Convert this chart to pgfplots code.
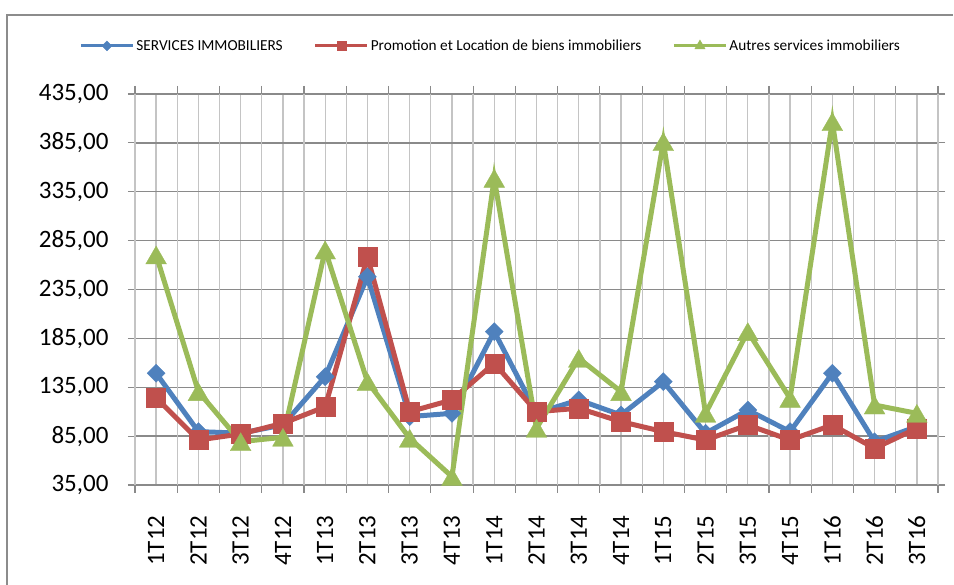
\documentclass[border=0pt]{standalone}
\usepackage{fontspec}
\setmainfont{Carlito}
\usepackage{pgfplots}
\pgfplotsset{compat=1.18}
\definecolor{cblue}{HTML}{4F81BD}
\definecolor{cred}{HTML}{C0504D}
\definecolor{cgreen}{HTML}{9BBB59}
\definecolor{gdark}{HTML}{8A8A8A}
\definecolor{glight}{HTML}{C4C4C4}
\definecolor{frame}{HTML}{8C8C8C}
\begin{document}
\begin{tikzpicture}
\begin{axis}[
  at={(0pt,0pt)}, anchor=south west,
  scale only axis, width=803pt, height=391pt,
  xmin=-0.5, xmax=18.5, ymin=35, ymax=435,
  clip=false,
  axis line style={gdark, line width=1.2pt},
  xtick={0,...,18},
  xticklabels={1T12,2T12,3T12,4T12,1T13,2T13,3T13,4T13,1T14,2T14,3T14,4T14,1T15,2T15,3T15,4T15,1T16,2T16,3T16},
  xtick style={draw=none},
  xmajorgrids, 
  x grid style={glight, line width=1.3pt},
  extra x ticks={-0.5,0.5,...,18.5},
  extra x tick labels={},
  extra x tick style={xmajorgrids, major grid style={gdark, line width=1.3pt}, xtick style={draw=gdark, line width=1.2pt}, major tick length=8pt, tick align=outside},
  ytick={35,85,...,435},
  ymajorgrids,
  y grid style={gdark, line width=1.3pt},
  ytick style={draw=gdark, line width=1.2pt},
  tick align=outside, major tick length=7pt,
  ticklabel style={font=\fontsize{25}{30}\selectfont, text=black},
  xticklabel style={rotate=90, anchor=east},
  xticklabel shift=20pt,
  yticklabel shift=16pt,
  /pgf/number format/.cd, assume math mode=true, fixed, fixed zerofill, precision=2, use comma, 1000 sep={},
  /pgfplots/.cd,
  legend columns=3,
  legend style={at={(0.443,1.123)}, anchor=center, draw=none, fill=none, font=\fontsize{15.3}{18}\selectfont,
    /tikz/every even column/.append style={column sep=29pt}},
  legend image code/.code={\draw[mark repeat=2,mark phase=2,#1] plot coordinates {(0pt,0pt)(26pt,0pt)(52pt,0pt)};},
]
\addlegendimage{cblue, line width=3pt, mark=square*, mark size=3.5pt, mark options={rotate=45, line width=0.3pt}}
\addlegendentry{SERVICES IMMOBILIERS}
\addlegendimage{cred, line width=3pt, mark=square*, mark size=4.5pt, mark options={line width=0.3pt}}
\addlegendentry{Promotion et Location de biens immobiliers}
\addlegendimage{cgreen, line width=3pt, mark=triangle*, mark size=6pt, mark options={line width=0.3pt}}
\addlegendentry{Autres services immobiliers}

\addplot[cblue, line width=5pt, mark=square*, mark size=6.4pt, mark options={rotate=45, line width=0.3pt}, forget plot]
 coordinates {(0,149.3)(1,89.6)(2,88)(3,96.4)(4,145.8)(5,248)(6,105)(7,108.3)(8,191.9)(9,108.6)(10,122)(11,106.6)(12,140.7)(13,87.9)(14,111.7)(15,89.6)(16,149.3)(17,79.3)(18,94.7)};
\addplot[cred, line width=5pt, mark=square*, mark size=9.5pt, mark options={line width=0.3pt}, forget plot]
 coordinates {(0,124.3)(1,81)(2,87.2)(3,98.1)(4,115)(5,268.6)(6,110)(7,122)(8,159.5)(9,110)(10,113.5)(11,99.8)(12,89.6)(13,81)(14,96.4)(15,81)(16,96.4)(17,72.5)(18,93)};
\addplot[cgreen, line width=5pt, mark=triangle*, mark size=12pt, mark options={line width=0.3pt, yshift=-3pt}, forget plot]
 coordinates {(0,270.3)(1,130.5)(2,79.3)(3,83.8)(4,275.4)(5,140.7)(6,82.8)(7,43.5)(8,348.7)(9,93)(10,164.6)(11,130.5)(12,386.2)(13,108.3)(14,191.9)(15,123.6)(16,406.7)(17,116.8)(18,108.3)};
\end{axis}
\draw[frame, line width=2pt] (-128pt,-110pt) -- (-128pt,470pt) -- (818pt,470pt);
\pgfresetboundingbox
\useasboundingbox (-135pt,-100pt) rectangle (819pt,485pt);
\end{tikzpicture}
\end{document}
